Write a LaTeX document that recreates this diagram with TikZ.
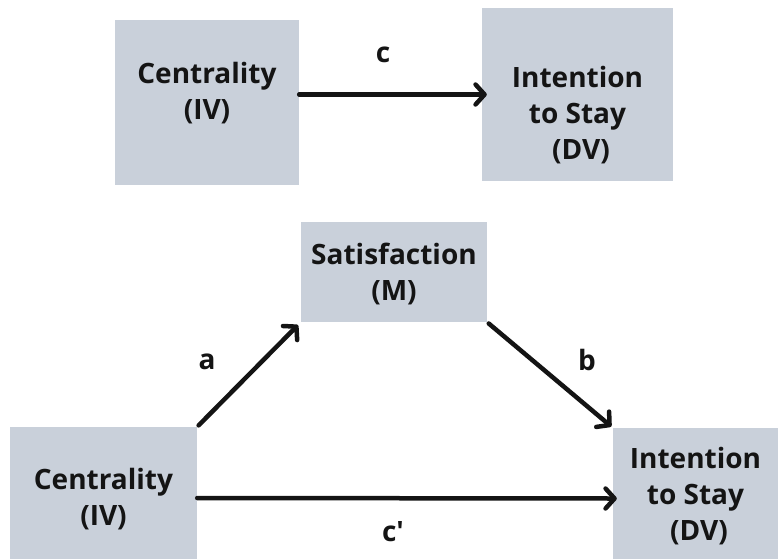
\documentclass[tikz,border=0pt]{standalone}
\usepackage{fontspec}
\setmainfont{Open Sans}
\usetikzlibrary{arrows.meta}

\definecolor{boxfill}{RGB}{201,208,218}
\definecolor{ink}{RGB}{20,20,20}

% centred lines of text, lifted by #1 without changing the box size
\newcommand\boxtext[2]{\raisebox{#1}[\height][\depth]{\begin{tabular}{@{}c@{}}#2\end{tabular}}}

\tikzset{
  varbox/.style={rectangle, fill=boxfill, inner sep=0pt, text=ink,
    font=\fontsize{28}{36}\selectfont\bfseries},
  pathlabel/.style={inner sep=0pt, text=ink, font=\fontsize{28}{36}\selectfont\bfseries},
  effect/.style={draw=ink, line width=4.5pt, line cap=round,
    -{Straight Barb[length=9pt,width=20pt,round]}}
}

\begin{document}
\begin{tikzpicture}[x=1pt, y=-1pt]
  \useasboundingbox (0,0) rectangle (778,559);

  % total effect model
  \node[varbox, minimum width=184pt, minimum height=165pt] (cenTop) at (207,102.5)
    {\boxtext{8pt}{Centrality\\(IV)}};
  \node[varbox, minimum width=191pt, minimum height=173pt] (dvTop) at (577.5,94.5)
    {\boxtext{-22pt}{Intention\\to Stay\\\hspace{7pt}(DV)}};
  \draw[effect, shorten >=-5pt] (cenTop.east |- dvTop.west) -- (dvTop.west);
  \node[pathlabel] (lc) at (383,55) {c};

  % mediation model
  \node[varbox, minimum width=186pt, minimum height=100pt] (sat) at (394,272)
    {\boxtext{-3pt}{Satisfaction\\(M)}};
  \node[varbox, minimum width=187pt, minimum height=132pt] (cenBot) at (103.5,493)
    {\boxtext{-7pt}{Centrality\\(IV)}};
  \node[varbox, minimum width=165pt, minimum height=131pt] (dvBot) at (695.5,493.5)
    {\boxtext{-4pt}{Intention\\to Stay\\\hspace{7pt}(DV)}};

  \draw[effect, shorten <=2pt, shorten >=4pt] (cenBot.north east) -- (sat.south west);
  \draw[effect, shorten <=2pt, shorten >=2pt] (sat.south east) -- (dvBot.north west);
  \draw[effect, shorten >=-4pt] ([yshift=-5pt]cenBot.east) -- ([yshift=-5pt]dvBot.west);

  \node[pathlabel] (la) at (207,362) {a};
  \node[pathlabel] (lb) at (587,360) {b};
  \node[pathlabel] (lcp) at (393,532) {c\textquotesingle};
\end{tikzpicture}
\end{document}
